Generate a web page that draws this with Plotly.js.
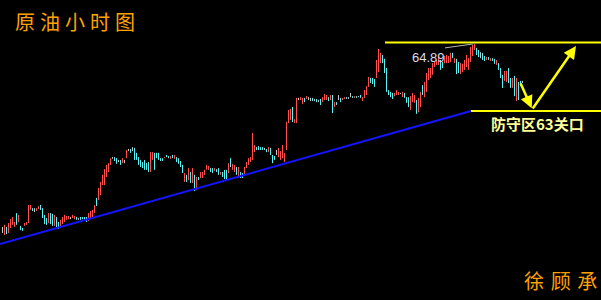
<!DOCTYPE html>
<html><head><meta charset="utf-8">
<script src="https://cdn.plot.ly/plotly-3.0.1.min.js"></script>
<style>html,body{margin:0;padding:0;background:#000;overflow:hidden}#chart{width:601px;height:300px}</style>
</head><body><div id="chart"></div>
<script>
// hourly crude oil candles: bar high / low and direction (u = up, d = down, n = doji)
const highs = [
59.73,59.79,59.73,59.84,59.95,60.01,59.87,60.12,60.07,59.76,
59.70,59.84,59.87,60.35,60.35,60.26,60.26,60.26,60.32,60.35,
60.26,60.07,59.98,60.12,60.12,60.10,60.07,60.01,59.87,59.93,
60.01,60.07,60.04,60.04,60.01,60.07,60.04,60.01,59.98,60.01,
60.01,60.01,60.01,60.12,60.18,60.21,60.35,60.55,60.83,61.00,
61.20,61.36,61.48,61.53,61.67,61.70,61.70,61.67,61.62,61.62,
61.67,61.62,61.90,61.93,61.93,61.98,61.96,61.82,61.70,61.62,
61.56,61.62,61.53,61.56,61.84,61.84,61.82,61.82,61.82,61.67,
61.67,61.70,61.76,61.73,61.73,61.76,61.76,61.70,61.67,61.59,
61.48,61.25,61.20,61.39,61.28,61.39,61.20,61.14,61.14,61.28,
61.28,61.34,61.48,61.45,61.39,61.39,61.39,61.36,61.39,61.28,
61.28,61.34,61.34,61.53,61.67,61.51,61.48,61.42,61.42,61.28,
61.25,61.42,61.56,61.67,61.70,62.38,62.04,61.98,62.01,61.98,
61.98,61.96,61.93,61.98,61.96,61.76,61.73,61.90,61.96,61.87,
62.04,61.82,62.69,63.03,63.06,63.11,62.77,63.37,63.37,63.39,
63.37,63.37,63.42,63.39,63.37,63.37,63.34,63.34,63.31,63.34,
63.39,63.48,63.45,63.39,63.45,63.45,63.25,63.25,63.45,63.37,
63.37,63.39,63.39,63.39,63.51,63.42,63.42,63.42,63.42,63.45,
63.39,63.59,63.70,63.96,63.93,63.93,63.90,64.44,64.75,64.64,
64.58,64.47,64.21,63.59,63.54,63.51,63.51,63.59,63.54,63.51,
63.54,63.51,63.39,63.39,63.42,63.51,63.45,63.31,63.37,63.54,
63.73,63.82,64.07,64.21,64.21,64.35,64.38,64.44,64.52,64.44,
64.38,64.55,64.58,64.55,64.64,64.64,64.49,64.47,64.38,64.35,
64.33,64.44,64.58,64.49,64.80,64.86,64.89,64.78,64.72,64.66,
64.64,64.55,64.52,64.52,64.49,64.49,64.47,64.44,64.35,64.21,
64.02,64.13,64.13,64.21,63.93,63.93,63.99,63.93,63.82,63.85,
63.85];
const lows = [
59.56,59.50,59.53,59.56,59.70,59.79,59.73,59.79,59.87,59.64,
59.62,59.76,59.79,59.84,60.21,60.18,60.15,60.18,60.24,60.21,
59.98,59.81,59.79,59.84,59.81,59.76,59.76,59.73,59.67,59.73,
59.81,59.87,59.93,59.95,59.95,59.98,59.95,59.93,59.93,59.93,
59.95,59.93,59.87,59.90,59.95,60.01,60.12,60.32,60.49,60.63,
60.91,60.91,61.14,61.28,61.48,61.65,61.59,61.51,61.56,61.48,
61.53,61.53,61.67,61.87,61.82,61.87,61.62,61.62,61.48,61.42,
61.39,61.34,61.34,61.28,61.28,61.62,61.34,61.67,61.62,61.59,
61.59,61.67,61.70,61.67,61.65,61.67,61.65,61.56,61.51,61.42,
61.25,61.00,61.00,61.05,60.97,60.97,60.74,60.77,61.05,61.11,
61.11,61.20,61.34,61.34,61.28,61.25,61.31,61.28,61.20,61.20,
61.14,61.08,61.05,61.25,61.42,61.34,61.28,61.20,61.11,61.11,
61.11,61.20,61.39,61.48,61.56,61.62,61.84,61.90,61.90,61.90,
61.90,61.90,61.84,61.84,61.76,61.53,61.62,61.76,61.70,61.62,
61.67,61.56,61.90,62.66,62.75,62.69,62.66,62.66,63.31,63.31,
63.20,63.25,63.34,63.31,63.28,63.28,63.28,63.25,63.25,63.17,
63.25,63.31,63.31,63.28,63.31,62.94,63.11,63.17,63.31,63.25,
63.31,63.34,63.34,63.34,63.39,63.37,63.37,63.37,63.39,63.37,
63.28,63.37,63.45,63.68,63.79,63.76,63.68,63.93,64.10,64.35,
64.35,64.07,63.54,63.45,63.39,63.34,63.42,63.45,63.45,63.48,
63.39,63.37,63.23,63.11,63.03,63.25,63.23,62.92,62.97,63.11,
63.45,63.39,63.54,63.87,63.93,64.02,64.24,64.30,64.30,64.16,
64.21,64.35,64.35,64.35,64.38,64.49,64.35,64.04,64.07,64.04,
64.10,64.16,64.24,64.16,64.38,64.55,64.72,64.58,64.52,64.49,
64.44,64.41,64.44,64.44,64.41,64.41,64.33,64.30,64.16,63.93,
63.65,63.85,63.82,63.79,63.65,63.65,63.42,63.28,63.31,63.70,
63.79];
const dirs = [
"nuduuuudud","duuuudnuud","dddudduddu","uuuunuudnd","ddduuuuduu",
"uuuuunddnd","unundndddd","dddduudddd","duddududdd","dududududu",
"uuuudduddu","ddduduudud","duuuuuuddd","dndudddnuu","uuuuuduunu",
"udunndndnd","uuudududnd","uudnndudnd","uuuuddduuu","dddddduuud",
"uddduuuduu","duuuuuuuud","duuuududdu","uuuuuuuddn","ddududdudd",
"duuddududd","n"].join("").split("");

const highLabel = 64.89;          // marked high
const resistance = 64.93;         // upper yellow level
const support = 63.00;            // 63 defence level
const trendStart = [-1.25, 59.25];
const trendEnd = [234.25, 63.00];
const resistanceFrom = 191.25, supportFrom = 234.25, rightEdge = 299.25;
const highMarkFrom = [221.25, 64.78], highMarkTo = [235.25, 64.89];
const downArrow = {from:[258.75, 63.82], to:[264.6, 63.08]};
const upArrow = {from:[264.6, 63.03], to:[286.75, 64.83]};

const colorOf = {u:'#ff4f4f', d:'#55f5f5', n:'#c8c8c8'};

// one line trace per candle colour; each candle is a vertical low-high segment
const traces = ['u', 'd', 'n'].map(k => {
  const xs = [], ys = [];
  highs.forEach((h, i) => {
    if (dirs[i] !== k) return;
    xs.push(i, i, null);
    ys.push(lows[i], h, null);
  });
  return {type: 'scatter', mode: 'lines', x: xs, y: ys, connectgaps: false,
          line: {color: colorOf[k], width: 1}, hoverinfo: 'skip'};
});

const yel = '#ffff00';
const layout = {
  width: 601, height: 300,
  margin: {l: 0, r: 0, t: 0, b: 0, pad: 0},
  paper_bgcolor: '#000', plot_bgcolor: '#000',
  showlegend: false,
  xaxis: {range: [-1.25, 299.25], visible: false, fixedrange: true},
  yaxis: {range: [57.6702, 66.1302], visible: false, fixedrange: true},
  shapes: [
    {type: 'line', xref: 'x', yref: 'y', x0: trendStart[0], y0: trendStart[1], x1: trendEnd[0], y1: trendEnd[1], line: {color: '#1414ff', width: 2}},
    {type: 'line', xref: 'x', yref: 'y', x0: resistanceFrom, y0: resistance, x1: rightEdge, y1: resistance, line: {color: yel, width: 2}},
    {type: 'line', xref: 'x', yref: 'y', x0: supportFrom, y0: support, x1: rightEdge, y1: support, line: {color: yel, width: 2}},
    {type: 'line', xref: 'x', yref: 'y', x0: highMarkFrom[0], y0: highMarkFrom[1], x1: highMarkTo[0], y1: highMarkTo[1], line: {color: '#b4b4b4', width: 1}}
  ],
  annotations: [
    {xref: 'paper', yref: 'paper', x: 13/601, y: 1 - 21/300, xanchor: 'left', yanchor: 'middle', showarrow: false,
     text: '原\u2005油\u2005小\u2005时\u2005图', font: {family: 'Noto Sans CJK SC', size: 20, color: '#ffa200'}},
    {xref: 'paper', yref: 'paper', x: 560/601, y: 1 - 280/300, xanchor: 'center', yanchor: 'middle', showarrow: false,
     text: '徐\u2004顾\u2004承', font: {family: 'Noto Sans CJK SC', size: 20, color: '#ffa200'}},
    {xref: 'x', yref: 'y', x: 212.75, y: 64.51, xanchor: 'center', yanchor: 'middle', showarrow: false,
     text: highLabel.toFixed(2), font: {family: 'Liberation Sans', size: 13, color: '#dcdce6'}},
    {xref: 'x', yref: 'y', x: 267.25, y: 62.65, xanchor: 'center', yanchor: 'middle', showarrow: false,
     text: '<b>防守区63关口</b>', font: {family: 'Noto Sans CJK SC', size: 15, color: '#ffff99'}},
    {xref: 'x', yref: 'y', axref: 'x', ayref: 'y', x: downArrow.to[0], y: downArrow.to[1], ax: downArrow.from[0], ay: downArrow.from[1],
     text: '', showarrow: true, arrowhead: 2, arrowsize: 1, arrowwidth: 2.5, arrowcolor: yel, standoff: 0, startstandoff: 0},
    {xref: 'x', yref: 'y', axref: 'x', ayref: 'y', x: upArrow.to[0], y: upArrow.to[1], ax: upArrow.from[0], ay: upArrow.from[1],
     text: '', showarrow: true, arrowhead: 2, arrowsize: 1, arrowwidth: 2.5, arrowcolor: yel, standoff: 0, startstandoff: 0}
  ]
};

Plotly.newPlot('chart', traces, layout, {staticPlot: true, displayModeBar: false});
</script>
</body></html>
